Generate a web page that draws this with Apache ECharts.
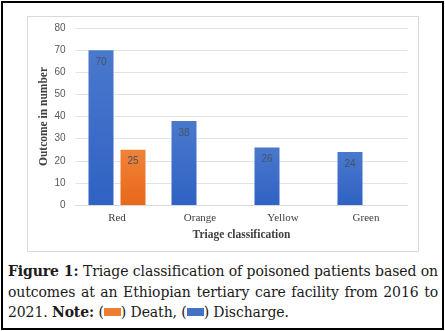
<!DOCTYPE html>
<html>
<head>
<meta charset="utf-8">
<script src="https://cdn.jsdelivr.net/npm/echarts@6/dist/echarts.min.js"></script>
<style>
html, body { margin: 0; padding: 0; background: #fff; }
#frame { position: absolute; left: 1px; top: 1px; width: 439px; height: 325px; border: 2px solid #000; }
#mychart { position: absolute; left: 0; top: 0; width: 445px; height: 256px; }
#caption { position: absolute; left: 8px; top: 261px; width: 430px; font-family: 'DejaVu Serif', 'Liberation Serif', serif;
  font-size: 14px; line-height: 20.5px; color: #1a1a1a; text-align: justify; letter-spacing: -0.1px; }
.sw { display: inline-block; width: 17px; height: 8px; vertical-align: 1px; }
</style>
</head>
<body>
<div id="frame"></div>
<div id="mychart"></div>
<div id="caption"><b>Figure 1:</b> Triage classification of poisoned patients based on outcomes at an Ethiopian tertiary care facility from 2016 to 2021. <b>Note:</b> (<span class="sw" style="background:#ed7d31"></span>) Death, (<span class="sw" style="background:#4472c4"></span>) Discharge.</div>
<script>
var categories = ['Red', 'Orange', 'Yellow', 'Green'];
var discharge = [70, 38, 26, 24];
var death = [25, null, null, null];
var yTicks = [0, 10, 20, 30, 40, 50, 60, 70, 80];

//柱子渐变色
function grad(top, bottom) {
    return {
        type: 'linear', x: 0, y: 0, x2: 0, y2: 1,
        colorStops: [{ offset: 0, color: top }, { offset: 1, color: bottom }]
    };
}

var myChart = echarts.init(document.getElementById('mychart'));
var labelStyle = {
    show: true,
    position: 'insideTop',
    distance: 7,
    color: '#44546a',
    fontSize: 10,
    fontFamily: 'Liberation Sans'
};
myChart.setOption({
    animation: false,
    graphic: [{
        type: 'rect',
        shape: { x: 27.5, y: 16.5, width: 391, height: 235 },
        style: { fill: 'none', stroke: '#d9d9d9', lineWidth: 1 },
        silent: true
    }],
    grid: {
        left: 75.5,
        right: 37.5,
        top: 28,
        bottom: 51
    },
    xAxis: {
        type: 'category',
        data: categories,
        name: 'Triage classification',
        nameLocation: 'middle',
        nameGap: 24,
        nameTextStyle: { fontFamily: 'Liberation Serif', fontWeight: 'bold', fontSize: 11.5, color: '#404040' },
        axisLine: { lineStyle: { color: '#d9d9d9' } },
        axisTick: { show: false },
        axisLabel: { margin: 8, fontFamily: 'Liberation Serif', fontSize: 11, color: '#404040' }
    },
    yAxis: {
        type: 'value',
        min: yTicks[0],
        max: yTicks[yTicks.length - 1],
        interval: 10,
        name: 'Outcome in number',
        nameLocation: 'middle',
        nameGap: 25,
        nameMoveOverlap: false,
        nameTextStyle: { fontFamily: 'Liberation Serif', fontWeight: 'bold', fontSize: 11.5, color: '#404040' },
        axisLine: { show: false },
        axisTick: { show: false },
        axisLabel: { margin: 10, fontFamily: 'Liberation Sans', fontSize: 10, color: '#595959' },
        splitLine: { lineStyle: { color: '#e3e3e3' } }
    },
    series: [
        {
            name: 'Discharge',
            type: 'bar',
            data: discharge,
            barWidth: 25,
            barGap: '28%',
            itemStyle: { color: grad('#4a78cc', '#2f62c4') },
            label: labelStyle
        },
        {
            name: 'Death',
            type: 'bar',
            data: death,
            barWidth: 25,
            itemStyle: { color: grad('#f08238', '#e8681a') },
            label: labelStyle
        }
    ]
});
</script>
</body>
</html>
